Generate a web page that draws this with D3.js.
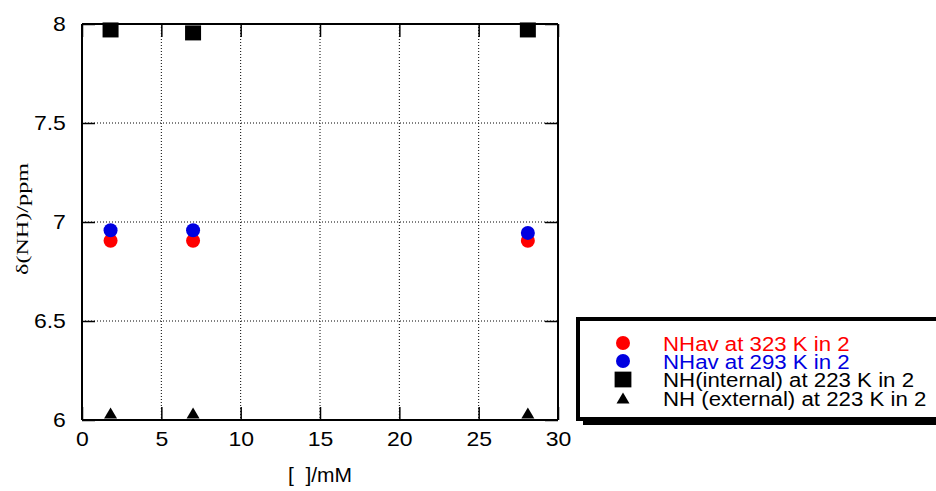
<!DOCTYPE html>
<html>
<head>
<meta charset="utf-8">
<script src="https://cdn.jsdelivr.net/npm/d3@7"></script>
<style>
  html, body { margin: 0; padding: 0; background: #fff; }
  svg { display: block; font-family: "Liberation Sans", Arial, sans-serif; }
</style>
</head>
<body>
<svg id="chart" width="936" height="491"></svg>
<script>
// Concentration (mM) of each sample
const concentrations = [1.8, 7.0, 28.1];

// Chemical shifts δ(NH) in ppm
const nhAv323 = [6.905, 6.905, 6.905];
const nhAv293 = [6.958, 6.958, 6.945];
const nhInternal223 = [7.97, 7.955, 7.97];
const nhExternal223 = [6.035, 6.035, 6.035];

const xTicks = [0, 5, 10, 15, 20, 25, 30];
const yTicks = [6, 6.5, 7, 7.5, 8];
const yTickLabels = ["6", "6.5", "7", "7.5", "8"];

const seriesNames = [
  "NHav at 323 K in 2",
  "NHav at 293 K in 2",
  "NH(internal) at 223 K in 2",
  "NH (external) at 223 K in 2"
];
const seriesColors = ["#ff0000", "#0000e0", "#000000", "#000000"];
const seriesShapes = ["circle", "circle", "square", "triangle"];
const seriesValues = [nhAv323, nhAv293, nhInternal223, nhExternal223];

const svg = d3.select("#chart");
const plot = { left: 82, right: 558, top: 24, bottom: 420 };
const wide = "scale(1.15,1)"; // slightly widened lettering

const x = d3.scaleLinear().domain([0, 30]).range([plot.left, plot.right]);
const y = d3.scaleLinear().domain([6, 8]).range([plot.bottom, plot.top]);

// Dotted grid lines
const grid = svg.append("g");
grid.selectAll("line.vx").data(xTicks.slice(1, -1)).join("line")
  .attr("x1", d => x(d)).attr("x2", d => x(d))
  .attr("y1", plot.top).attr("y2", plot.bottom)
  .attr("stroke", "#000").attr("stroke-width", 1).attr("stroke-dasharray", "1,2");
grid.selectAll("line.hy").data(yTicks.slice(1, -1)).join("line")
  .attr("y1", d => y(d)).attr("y2", d => y(d))
  .attr("x1", plot.left).attr("x2", plot.right)
  .attr("stroke", "#000").attr("stroke-width", 1).attr("stroke-dasharray", "1,2");

// Frame axes with inward ticks on all four sides
const tickLen = 13;
const bottomAxis = d3.axisBottom(x).tickValues(xTicks).tickSize(-tickLen).tickPadding(12)
  .tickFormat(d3.format("d"));
const topAxis = d3.axisTop(x).tickValues(xTicks).tickSize(-tickLen).tickFormat("");
const leftAxis = d3.axisLeft(y).tickValues(yTicks).tickSize(-tickLen).tickPadding(14)
  .tickFormat((d, i) => yTickLabels[i]);
const rightAxis = d3.axisRight(y).tickValues(yTicks).tickSize(-tickLen).tickFormat("");

function styleAxis(g) {
  g.selectAll("path").attr("stroke", "#000").attr("stroke-width", 2);
  g.selectAll("line").attr("stroke", "#000").attr("stroke-width", 1.5);
  g.selectAll("text").attr("fill", "#000").attr("font-size", 20)
    .attr("font-family", "'Liberation Sans', Arial, sans-serif")
    .attr("transform", wide);
}
svg.append("g").attr("transform", `translate(0,${plot.bottom})`).call(bottomAxis).call(styleAxis)
  .call(g => g.select(".domain").attr("d", `M${plot.left},0H${plot.right}`));
svg.append("g").attr("transform", `translate(0,${plot.top})`).call(topAxis).call(styleAxis)
  .call(g => g.select(".domain").attr("d", `M${plot.left},0H${plot.right}`));
svg.append("g").attr("transform", `translate(${plot.left},0)`).call(leftAxis).call(styleAxis)
  .call(g => g.select(".domain").attr("d", `M0,${plot.bottom}V${plot.top}`));
svg.append("g").attr("transform", `translate(${plot.right},0)`).call(rightAxis).call(styleAxis)
  .call(g => g.select(".domain").attr("d", `M0,${plot.bottom}V${plot.top}`));

// Axis titles
svg.append("text").attr("transform", "translate(320,482) scale(1.05,1)").attr("text-anchor", "middle")
  .attr("font-size", 20).text("[\u00a0\u00a0]/mM");
svg.append("text").attr("transform", "translate(28,219) rotate(-90)")
  .attr("text-anchor", "middle").attr("font-size", 17)
  .attr("font-family", "'Liberation Serif', 'Times New Roman', serif")
  .attr("textLength", 112).attr("lengthAdjust", "spacingAndGlyphs")
  .text("δ(NH)/ppm");

// Marker symbols
function drawMarker(g, shape, cx, cy, color, scale) {
  const s = scale || 1;
  if (shape === "circle") {
    g.append("circle").attr("cx", cx).attr("cy", cy).attr("r", 7 * s).attr("fill", color);
  } else if (shape === "square") {
    g.append("rect").attr("x", cx - 8 * s).attr("y", cy - 7.5 * s)
      .attr("width", 16 * s).attr("height", 15 * s).attr("fill", color);
  } else {
    const h = 11 * s, w = 13 * s;
    g.append("path")
      .attr("d", `M${cx},${cy - h / 2}L${cx + w / 2},${cy + h / 2}L${cx - w / 2},${cy + h / 2}Z`)
      .attr("fill", color);
  }
}

const marks = svg.append("g");
seriesValues.forEach((vals, si) => {
  vals.forEach((v, i) => {
    drawMarker(marks, seriesShapes[si], x(concentrations[i]), y(v), seriesColors[si]);
  });
});

// Legend box with drop shadow
const lg = svg.append("g");
lg.append("rect").attr("x", 583).attr("y", 324).attr("width", 380).attr("height", 101).attr("fill", "#000");
lg.append("rect").attr("x", 578).attr("y", 319).attr("width", 380).attr("height", 100)
  .attr("fill", "#fff").attr("stroke", "#000").attr("stroke-width", 4);
const rowY = [343, 361, 379.5, 398];
seriesNames.forEach((name, i) => {
  drawMarker(lg, seriesShapes[i], 623, rowY[i], seriesColors[i], i === 2 ? 1.05 : 1);
  lg.append("text").attr("transform", `translate(663,${rowY[i] + 7.5}) scale(1.06,1)`)
    .attr("font-size", 21).attr("fill", seriesColors[i]).text(name);
});
</script>
</body>
</html>
